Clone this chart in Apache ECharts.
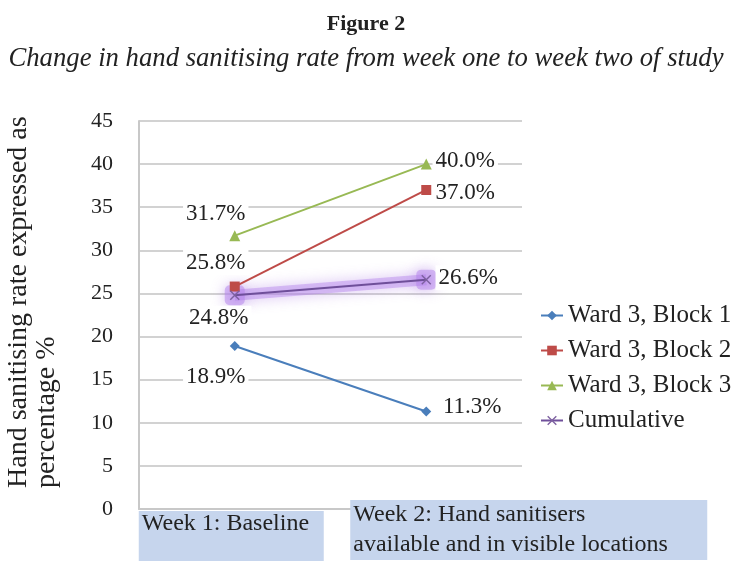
<!DOCTYPE html>
<html>
<head>
<meta charset="utf-8">
<script src="https://cdn.jsdelivr.net/npm/echarts@6/dist/echarts.min.js"></script>
<style>html,body{margin:0;padding:0;background:#fff}#c{width:732px;height:561px}</style>
</head>
<body>
<div id="c"></div>
<script>
const categories = ['Week 1: Baseline', 'Week 2: Hand sanitisers\navailable and in visible locations'];
const seriesNames = ['Ward 3, Block 1', 'Ward 3, Block 2', 'Ward 3, Block 3', 'Cumulative'];
const block1 = [18.9, 11.3];
const block2 = [25.8, 37.0];
const block3 = [31.7, 40.0];
const cumulative = [24.8, 26.6];
const yTicks = [0, 5, 10, 15, 20, 25, 30, 35, 40, 45];

const FONT = '"Liberation Serif", "DejaVu Serif", serif';
const colors = ['#4a7ebb', '#be4b48', '#98b954', '#7d60a0'];
const symbols = ['diamond', 'rect', 'triangle', 'path://M1,0L5,4L9,0L10,1L6,5L10,9L9,10L5,6L1,10L0,9L4,5L0,1Z'];
const symbolSizes = [10, 10, 11, 10];
// label offsets (style) for [week1, week2] of each series
const labelOffsets = [
  [[-19, 31], [46, -5]],
  [[-19, -24], [39, 3]],
  [[-19, -22], [39, -3]],
  [[-16, 23], [42, -2]]
];
const allValues = [block1, block2, block3, cumulative];

const chart = echarts.init(document.getElementById('c'));

const series = allValues.map((vals, si) => {
  const s = {
    name: seriesNames[si],
    type: 'line',
    symbol: symbols[si],
    symbolSize: symbolSizes[si],
    color: colors[si],
    lineStyle: { color: colors[si], width: 2 },
    itemStyle: { color: colors[si] },
    z: 3 + si,
    data: vals.map((v, i) => ({
      value: v,
      label: {
        show: true,
        position: 'inside',
        offset: labelOffsets[si][i],
        formatter: (p) => p.value.toFixed(1) + '%',
        fontFamily: FONT,
        fontSize: 23,
        color: '#222',
        backgroundColor: '#fff',
        padding: [1, 3]
      }
    }))
  };
  if (si === 3) {
    s.lineStyle = { color: '#6f4f9a', width: 2 };
    s.itemStyle = { color: '#7d60a0' };
  }
  return s;
});
// soft purple glow under the cumulative line (same data)
series.push({
  name: seriesNames[3],
  type: 'line',
  data: cumulative,
  silent: true,
  z: 2,
  symbol: 'roundRect',
  symbolSize: 20,
  itemStyle: { color: 'rgba(180,130,235,0.5)', shadowColor: 'rgba(165,110,225,0.9)', shadowBlur: 14 },
  lineStyle: { color: 'rgba(180,130,235,0.45)', width: 11, shadowColor: 'rgba(165,110,225,0.9)', shadowBlur: 14 },
  label: { show: false },
  emphasis: { disabled: true }
});

const xData = categories.map((c, i) => i === 0 ? { value: c, textStyle: { padding: [11, 0, 0, 0] } } : c);

chart.setOption({
  animation: false,
  title: {
    text: 'Figure 2',
    subtext: 'Change in hand sanitising rate from week one to week two of study',
    left: 'center',
    top: 8,
    itemGap: 10,
    textStyle: { fontFamily: FONT, fontWeight: 'bold', fontSize: 22, color: '#222' },
    subtextStyle: { fontFamily: FONT, fontStyle: 'italic', fontSize: 26.7, color: '#222' }
  },
  legend: {
    orient: 'vertical',
    left: 535,
    top: 298,
    itemWidth: 22,
    itemHeight: 12,
    itemGap: 10,
    data: seriesNames,
    textStyle: { fontFamily: FONT, fontSize: 25, lineHeight: 25, color: '#222' }
  },
  grid: { left: 139, right: 210, top: 121, bottom: 52 },
  xAxis: {
    type: 'category',
    data: xData,
    boundaryGap: true,
    axisTick: { show: false },
    axisLine: { lineStyle: { color: '#c8c8c8', width: 2 } },
    axisLabel: {
      interval: 0,
      margin: -9,
      fontFamily: FONT,
      fontSize: 24,
      color: '#222',
      formatter: (value, index) => {
        if (index === 0) return '{a|' + value + '}{sp2| }';
        return value.split('\n').map(l => '{sp| }{b|' + l + '}').join('\n');
      },
      rich: {
        a: { fontFamily: FONT, fontSize: 24, color: '#222', width: 182, height: 26, lineHeight: 50, padding: [0, 0, 24, 3], align: 'left', backgroundColor: '#c6d5ed' },
        sp2: { width: 7, height: 26, align: 'left' },
        sp: { width: 205, height: 30, align: 'left' },
        b: { fontFamily: FONT, fontSize: 24, color: '#222', width: 354, height: 30, lineHeight: 30, padding: [0, 0, 0, 3], align: 'left', backgroundColor: '#c6d5ed' }
      }
    }
  },
  yAxis: {
    type: 'value',
    min: yTicks[0],
    max: yTicks[yTicks.length - 1],
    interval: yTicks[1] - yTicks[0],
    axisLine: { show: true, lineStyle: { color: '#c8c8c8', width: 2 } },
    axisTick: { show: false },
    splitLine: { lineStyle: { color: '#d2d2d2', width: 2 } },
    axisLabel: { margin: 26, fontFamily: FONT, fontSize: 22, color: '#222' }
  },
  graphic: [{
    type: 'text',
    x: 5,
    y: 488,
    rotation: Math.PI / 2,
    style: {
      text: 'Hand sanitising rate expressed as\npercentage %',
      font: '28px ' + FONT,
      fill: '#222',
      align: 'left',
      verticalAlign: 'top',
      lineHeight: 28
    }
  }],
  series: series
});
</script>
</body>
</html>
